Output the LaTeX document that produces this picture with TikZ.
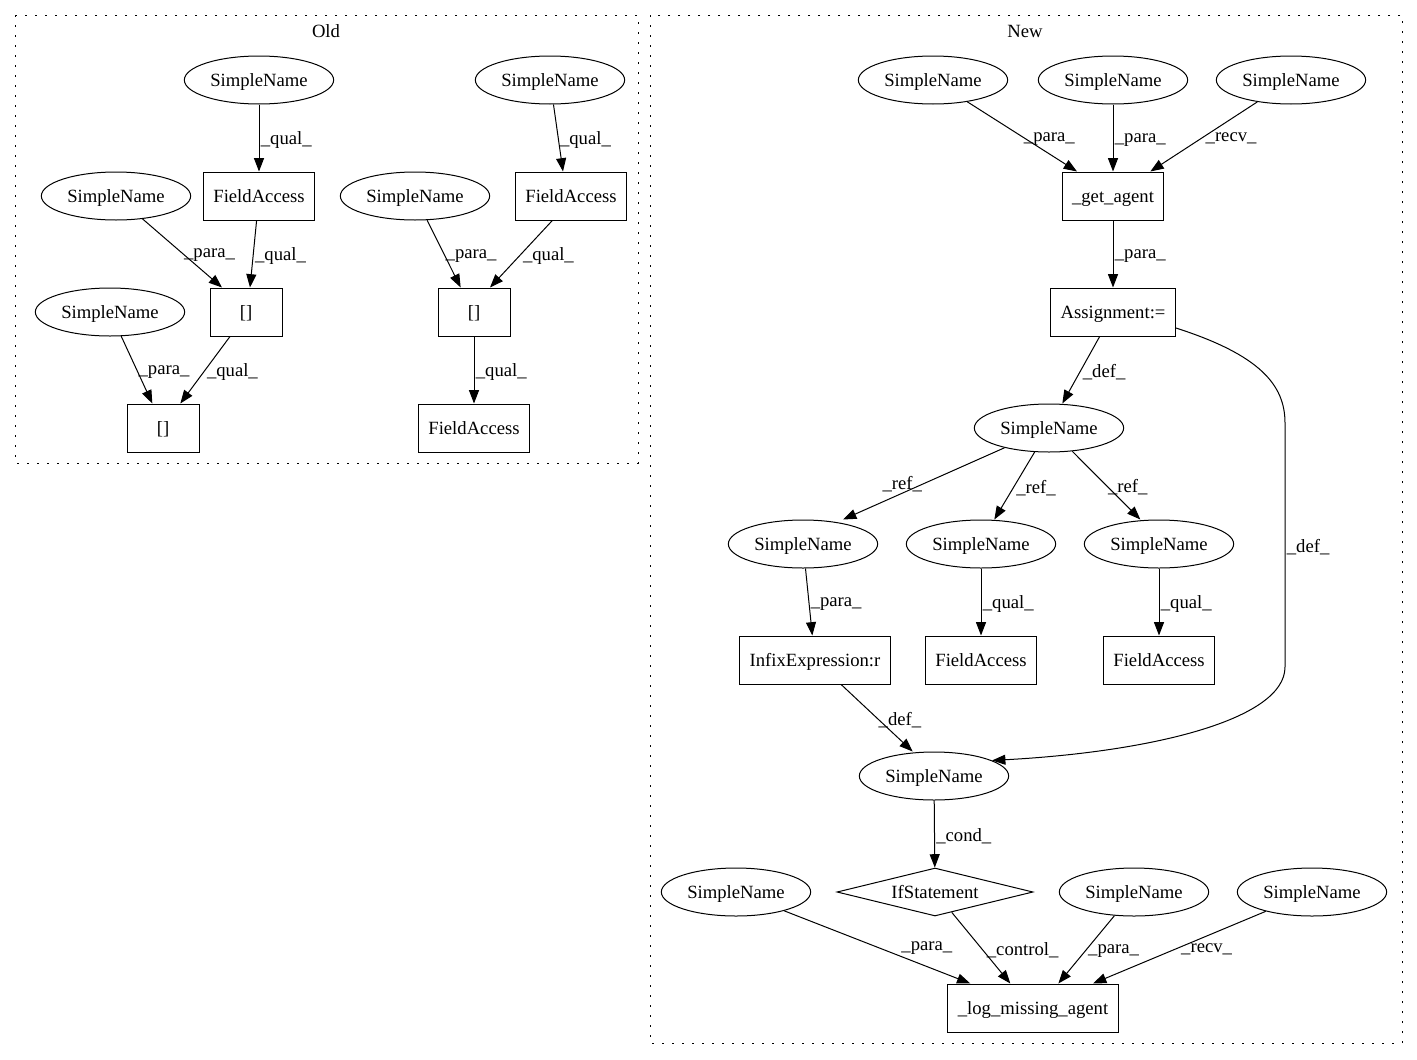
\documentclass[tikz,border=0pt]{standalone}
\usepackage{fontspec}
\setmainfont{Liberation Serif}
\usetikzlibrary{
  arrows.meta,
  shapes.geometric
}

\begin{document}
\begin{tikzpicture}[
  x=0.75pt, y=-0.75pt,
  line width=0.75pt,
  every node/.style={font=\fontsize{14}{16}\selectfont},
  sname/.style={
    draw, ellipse, minimum width=112pt, minimum height=36pt, inner sep=0pt,
    text height=11.5pt, text depth=2pt,
  },
  sbox/.style={
    draw, rectangle, minimum width=54pt, minimum height=36pt, inner xsep=7.5pt,
    text height=11.5pt, text depth=2pt,
  },
  ifbox/.style={
    draw, diamond, aspect=4, minimum width=147pt, minimum height=36pt, inner sep=0pt,
    text height=11.5pt, text depth=2pt,
  },
  cluster/.style={draw, dash pattern=on 1.5pt off 6pt},
  arrow/.style={-{Triangle[length=10pt, width=7.5pt]}},
  lbl/.style={pos=0.5, anchor=west, inner sep=1pt, yshift=-1.5pt},
]
\useasboundingbox (0,0) rectangle (1417,1060);

% clusters
\draw[cluster] (15,15) rectangle (638,463);
\draw[cluster] (650,15) rectangle (1402,1043);
\node (oldlabel) at (326,31) {Old};
\node (newlabel) at (1025,31) {New};

% old
\node[sname] (oname1) at (259,80) {SimpleName};
\node[sname] (oname2) at (550,80) {SimpleName};
\node[sbox] (ofield1) at (259,196) {FieldAccess};
\node[sbox] (ofield2) at (571,196) {FieldAccess};
\node[sname] (oname3) at (116,196) {SimpleName};
\node[sname] (oname4) at (415,196) {SimpleName};
\node[sbox] (oindex1) at (246,312) {[]};
\node[sbox] (oindex2) at (474,312) {[]};
\node[sname] (oname5) at (110,312) {SimpleName};
\node[sbox] (oindex3) at (163,428) {[]};
\node[sbox] (ofield3) at (474,428) {FieldAccess};

\draw[arrow] (oname1) -- (ofield1) node[lbl] {\_qual\_};
\draw[arrow] (ofield1) -- ([xshift=3pt]oindex1.north) node[lbl] {\_qual\_};
\draw[arrow] (oname3) -- ([xshift=-18pt]oindex1.north) node[lbl] {\_para\_};
\draw[arrow] ([xshift=-12pt]oindex1.south) -- ([xshift=13pt]oindex3.north) node[lbl] {\_qual\_};
\draw[arrow] (oname5) -- ([xshift=-8pt]oindex3.north) node[lbl] {\_para\_};
\draw[arrow] (oname2) -- ([xshift=-6pt]ofield2.north) node[lbl] {\_qual\_};
\draw[arrow] ([xshift=-14pt]ofield2.south) -- ([xshift=12pt]oindex2.north) node[lbl] {\_qual\_};
\draw[arrow] (oname4) -- ([xshift=-10pt]oindex2.north) node[lbl] {\_para\_};
\draw[arrow] (oindex2) -- (ofield3) node[lbl] {\_qual\_};

% new
\node[sname] (nname1) at (933,80) {SimpleName};
\node[sname] (nname2) at (1113,80) {SimpleName};
\node[sname] (nname3) at (1291,80) {SimpleName};
\node[sbox] (getagent) at (1113,196) {\_get\_agent};
\node[sbox] (assign) at (1113,312) {Assignment:=};
\node[sname] (agent) at (1049,428) {SimpleName};
\node[sname] (nref1) at (803,544) {SimpleName};
\node[sname] (nref2) at (981,544) {SimpleName};
\node[sname] (nref3) at (1159,544) {SimpleName};
\node[sbox] (infix) at (815,660) {InfixExpression:r};
\node[sbox] (nfield1) at (981,660) {FieldAccess};
\node[sbox] (nfield2) at (1159,660) {FieldAccess};
\node[sname] (missing) at (934,776) {SimpleName};
\node[ifbox] (ifstmt) at (935,892) {IfStatement};
\node[sname] (nname4) at (736,892) {SimpleName};
\node[sname] (nname5) at (1134,892) {SimpleName};
\node[sname] (nname6) at (1312,892) {SimpleName};
\node[sbox] (logmissing) at (1033,1008) {\_log\_missing\_agent};

\draw[arrow] (nname1) -- ([xshift=-27pt]getagent.north) node[lbl] {\_para\_};
\draw[arrow] (nname2) -- (getagent) node[lbl] {\_para\_};
\draw[arrow] (nname3) -- ([xshift=28pt]getagent.north) node[lbl] {\_recv\_};
\draw[arrow] (getagent) -- (assign) node[lbl] {\_para\_};
\draw[arrow] ([xshift=-10pt]assign.south) -- ([xshift=10pt]agent.north) node[lbl] {\_def\_};
\draw[arrow] ([yshift=-12pt]assign.east) .. controls (1260,355) and (1285,385) .. (1285,423)
  -- (1285,667) node[lbl] {\_def\_}
  .. controls (1285,720) and (1150,752) .. (missing.15);
\draw[arrow] (agent) -- ([xshift=30pt]nref1.north) node[pos=0.5, anchor=east, inner sep=1pt] {\_ref\_};
\draw[arrow] (agent) -- ([xshift=10pt]nref2.north) node[lbl] {\_ref\_};
\draw[arrow] (agent) -- ([xshift=-14pt]nref3.north) node[lbl] {\_ref\_};
\draw[arrow] (nref1) -- ([xshift=-2pt]infix.north) node[lbl] {\_para\_};
\draw[arrow] (nref2) -- (nfield1) node[lbl] {\_qual\_};
\draw[arrow] (nref3) -- (nfield2) node[lbl] {\_qual\_};
\draw[arrow] (infix) -- ([xshift=-16pt]missing.north) node[lbl] {\_def\_};
\draw[arrow] (missing) -- (ifstmt) node[lbl] {\_cond\_};
\draw[arrow] (ifstmt) -- ([xshift=-17pt]logmissing.north) node[lbl, xshift=3pt] {\_control\_};
\draw[arrow] (nname4) -- ([xshift=-47pt]logmissing.north) node[pos=0.62, anchor=south west, inner sep=1pt] {\_para\_};
\draw[arrow] (nname5) -- ([xshift=19pt]logmissing.north) node[lbl] {\_para\_};
\draw[arrow] (nname6) -- ([xshift=45pt]logmissing.north) node[lbl] {\_recv\_};

\end{tikzpicture}
\end{document}
